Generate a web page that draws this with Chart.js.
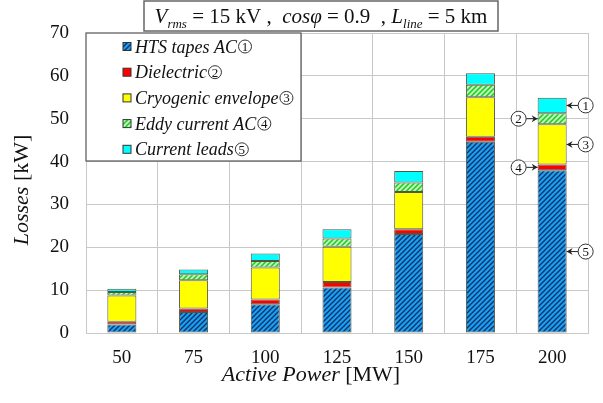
<!DOCTYPE html>
<html>
<head>
<meta charset="utf-8">
<script src="https://cdn.jsdelivr.net/npm/chart.js@4"></script>
<style>
  html, body { margin: 0; padding: 0; background: #fff; }
  #wrap { width: 603px; height: 403px; }
</style>
</head>
<body>
<div id="wrap"><canvas id="lossChart" width="603" height="403"></canvas></div>
<script>
// --- Data ---
const powerLabels = ['50', '75', '100', '125', '150', '175', '200'];
const htsTapes = [2.0, 4.9, 6.7, 10.6, 23.1, 44.6, 38.0];
const dielectric = [0.65, 0.8, 1.1, 1.3, 1.1, 1.2, 1.3];
const cryoEnvelope = [6.1, 6.6, 7.5, 8.2, 8.7, 9.2, 9.4];
const eddyCurrent = [0.8, 1.4, 1.5, 1.95, 2.2, 2.9, 2.6];
const currentLeads = [0.8, 1.1, 1.75, 2.15, 2.7, 2.7, 3.6];
const yTicks = [0, 10, 20, 30, 40, 50, 60, 70];
const legendNames = ['HTS tapes AC', 'Dielectric', 'Cryogenic envelope', 'Eddy current AC', 'Current leads'];

const SERIF = '"Liberation Serif", "Times New Roman", serif';

// --- Hatch patterns ---
function hatch(bg, fg, size, lw) {
    const c = document.createElement('canvas');
    c.width = size; c.height = size;
    const g = c.getContext('2d');
    g.fillStyle = bg;
    g.fillRect(0, 0, size, size);
    g.strokeStyle = fg;
    g.lineWidth = lw;
    g.beginPath();
    g.moveTo(0, size); g.lineTo(size, 0);
    g.moveTo(-1, 1); g.lineTo(1, -1);
    g.moveTo(size - 1, size + 1); g.lineTo(size + 1, size - 1);
    g.stroke();
    return g.createPattern(c, 'repeat');
}

const ctx = document.getElementById('lossChart').getContext('2d');
const htsFill = hatch('#1aa0ec', '#0d2f6e', 5, 1.3);
const eddyFill = hatch('#30cc30', '#bfffbf', 5, 1.8);
const fills = [htsFill, '#ff0000', '#ffff00', eddyFill, '#00ffff'];
const seriesData = [htsTapes, dielectric, cryoEnvelope, eddyCurrent, currentLeads];

// --- Drawing helpers ---
function circledDigit(c, x, y, r, digit) {
    c.save();
    c.beginPath();
    c.arc(x, y, r, 0, Math.PI * 2);
    c.fillStyle = '#fff';
    c.fill();
    c.lineWidth = 1;
    c.strokeStyle = '#333';
    c.stroke();
    c.fillStyle = '#111';
    c.font = '13px ' + SERIF;
    c.textAlign = 'center';
    c.textBaseline = 'middle';
    c.fillText(String(digit), x, y + 1);
    c.restore();
}

function drawRuns(c, runs, x, y) {
    // runs: [text, style, size, dy]
    runs.forEach(r => {
        c.font = r[1] + ' ' + r[2] + 'px ' + SERIF;
        c.fillText(r[0], x, y + (r[3] || 0));
        x += c.measureText(r[0]).width;
    });
    return x;
}

function runsWidth(c, runs) {
    let w = 0;
    runs.forEach(r => {
        c.font = r[1] + ' ' + r[2] + 'px ' + SERIF;
        w += c.measureText(r[0]).width;
    });
    return w;
}

function arrow(c, x1, y, x2) {
    c.save();
    c.strokeStyle = '#222';
    c.fillStyle = '#222';
    c.lineWidth = 1;
    c.beginPath();
    c.moveTo(x1, y); c.lineTo(x2, y);
    c.stroke();
    const d = x2 > x1 ? -1 : 1;
    c.beginPath();
    c.moveTo(x2, y);
    c.lineTo(x2 + d * 6, y - 3.5);
    c.lineTo(x2 + d * 4, y);
    c.lineTo(x2 + d * 6, y + 3.5);
    c.closePath();
    c.fill();
    c.restore();
}

const extras = {
    id: 'extras',
    afterDraw(chart) {
        const c = chart.ctx;
        const xs = chart.scales.x, ys = chart.scales.y;
        const area = chart.chartArea;
        c.save();
        c.fillStyle = '#111';
        c.textBaseline = 'alphabetic';

        // Title box
        const titleRuns = [
            ['V', 'italic', 21], ['rms', 'italic', 13, 5], [' = 15 kV ,  ', 'normal', 21],
            ['cos\u03C6', 'italic', 21], [' = 0.9  , ', 'normal', 21],
            ['L', 'italic', 21], ['line', 'italic', 13, 5], [' = 5 km', 'normal', 21]
        ];
        c.fillStyle = '#fff';
        c.fillRect(144, 1, 354, 30);
        c.strokeStyle = '#666';
        c.lineWidth = 1.5;
        c.strokeRect(144, 1, 354, 30);
        c.fillStyle = '#111';
        const tw = runsWidth(c, titleRuns);
        drawRuns(c, titleRuns, 321 - tw / 2, 23);

        // Legend box
        c.fillStyle = '#fff';
        c.fillRect(area.left, area.top, 301 - area.left, 161 - area.top);
        c.strokeStyle = '#555';
        c.lineWidth = 1.2;
        c.strokeRect(area.left, area.top, 301 - area.left, 161 - area.top);
        legendNames.forEach((name, i) => {
            const cy = 46.5 + i * 25.7;
            c.fillStyle = fills[i];
            c.fillRect(123, cy - 4, 8, 8);
            c.strokeStyle = '#333';
            c.lineWidth = 1;
            c.strokeRect(123, cy - 4, 8, 8);
            c.fillStyle = '#111';
            c.font = 'italic 18px ' + SERIF;
            c.textAlign = 'left';
            c.fillText(name, 135, cy + 6);
            const w = c.measureText(name).width;
            circledDigit(c, 135 + w + 8, cy, 6.5, i + 1);
        });

        // Axis titles
        c.fillStyle = '#111';
        c.textAlign = 'left';
        const xRuns = [['Active Power ', 'italic', 22], ['[MW]', 'normal', 22]];
        drawRuns(c, xRuns, 311 - runsWidth(c, xRuns) / 2, 381);
        const yRuns = [['Losses ', 'italic', 22], ['[kW]', 'normal', 22]];
        c.save();
        c.translate(28, 190);
        c.rotate(-Math.PI / 2);
        drawRuns(c, yRuns, -runsWidth(c, yRuns) / 2, 0);
        c.restore();

        // Callouts on the last bar
        const last = powerLabels.length - 1;
        const meta = chart.getDatasetMeta(0).data[last];
        const half = meta.width / 2;
        const bx = xs.getPixelForValue(last);
        let base = 0;
        const mids = seriesData.map(s => { const m = base + s[last] / 2; base += s[last]; return ys.getPixelForValue(m); });
        // digit shown next to each segment, top to bottom
        const callouts = [
            { seg: 4, digit: 1, side: 1 },
            { seg: 3, digit: 2, side: -1 },
            { seg: 2, digit: 3, side: 1 },
            { seg: 1, digit: 4, side: -1 },
            { seg: 0, digit: 5, side: 1 }
        ];
        callouts.forEach(o => {
            const y = mids[o.seg];
            const edge = bx + o.side * half;
            const cx = edge + o.side * 19;
            arrow(c, cx - o.side * 7.5, y, edge);
            circledDigit(c, cx, y, 7.5, o.digit);
        });
        c.restore();
    }
};

new Chart(ctx, {
    type: 'bar',
    data: {
        labels: powerLabels,
        datasets: seriesData.map((d, i) => ({
            label: legendNames[i],
            data: d,
            backgroundColor: fills[i],
            borderColor: '#555540',
            borderWidth: 1,
            borderSkipped: false,
            categoryPercentage: 1,
            barPercentage: 0.405
        }))
    },
    options: {
        responsive: false,
        animation: false,
        events: [],
        layout: { padding: { top: 33, right: 15, left: 0, bottom: 0 } },
        plugins: {
            legend: { display: false },
            tooltip: { enabled: false },
            title: { display: false }
        },
        scales: {
            x: {
                stacked: true,
                grid: { color: '#c8c8c8', lineWidth: 1, drawTicks: false, offset: true },
                border: { color: '#c8c8c8' },
                ticks: { color: '#111', font: { family: SERIF, size: 19 }, padding: 14, maxRotation: 0 },
                afterFit(scale) { scale.height = 70; }
            },
            y: {
                stacked: true,
                min: 0,
                max: 70,
                afterBuildTicks(scale) { scale.ticks = yTicks.map(v => ({ value: v })); },
                grid: { color: '#c8c8c8', lineWidth: 1, drawTicks: false },
                border: { color: '#c8c8c8' },
                ticks: { color: '#111', font: { family: SERIF, size: 19 }, padding: 17 },
                afterFit(scale) { scale.width = 86; }
            }
        }
    },
    plugins: [extras]
});
</script>
</body>
</html>
